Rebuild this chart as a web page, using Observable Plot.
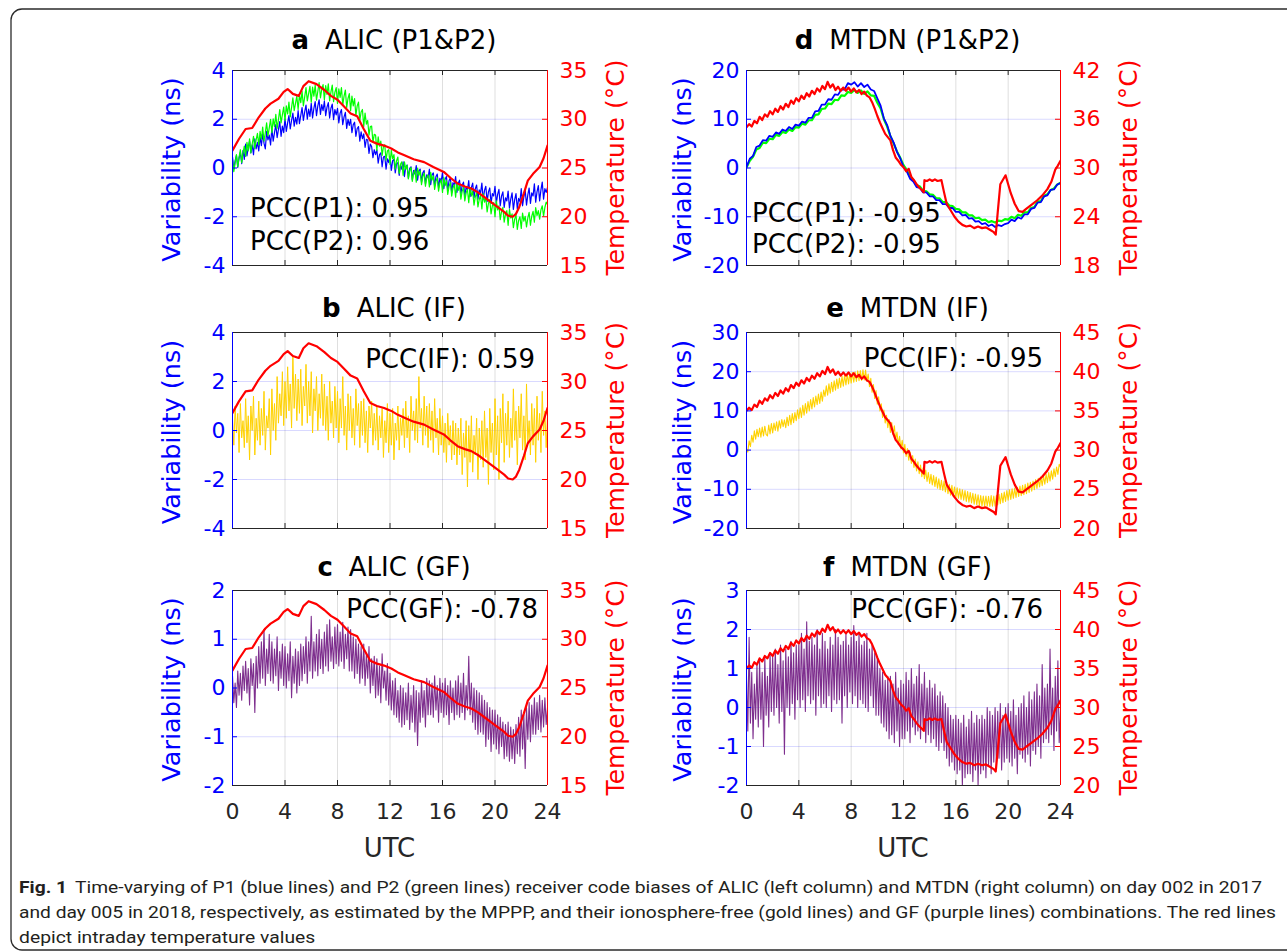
<!DOCTYPE html>
<html><head><meta charset="utf-8">
<script src="https://cdn.jsdelivr.net/npm/d3@7"></script>
<script src="https://cdn.jsdelivr.net/npm/@observablehq/plot@0.6"></script>
<style>
html,body{margin:0;padding:0;background:#fff;}
#wrap{position:relative;width:1287px;height:952px;overflow:hidden;background:#fff;}
</style></head>
<body><div id="wrap"></div>
<script>
// ---------- tick labels ----------
const xTicks = [0, 4, 8, 12, 16, 20, 24];

// ---------- ALIC (day 002, 2017) ----------
const alicP1 = [0.45,-0.05,0.30,0.52,0.02,0.40,0.65,0.18,0.72,0.35,
 0.98,0.50,0.85,1.10,0.62,0.95,0.55,1.20,0.78,1.05,
 0.70,1.28,0.92,1.40,1.02,0.78,1.50,1.15,1.35,0.95,
 1.62,1.10,1.45,1.78,1.25,1.58,1.90,1.30,1.72,1.45,
 2.02,1.50,1.85,2.15,1.60,1.95,2.25,1.72,2.08,1.80,
 2.35,1.82,2.15,2.48,1.95,2.30,2.58,2.00,2.42,2.12,
 2.65,2.05,2.45,2.72,2.15,2.55,2.80,2.20,2.60,2.35,
 2.75,2.15,2.50,2.68,2.05,2.45,2.62,1.98,2.40,2.18,
 2.45,1.85,2.25,2.40,1.78,2.10,2.28,1.62,2.00,1.75,
 2.00,1.45,1.78,1.88,1.30,1.62,1.70,1.10,1.48,1.20,
 1.40,0.85,1.18,1.15,0.60,0.98,0.88,0.42,0.75,0.55,
 0.75,0.20,0.55,0.62,0.05,0.45,0.48,-0.05,0.38,0.22,
 0.48,-0.10,0.30,0.35,-0.20,0.18,0.22,-0.30,0.12,-0.05,
 0.25,-0.35,0.05,0.12,-0.42,-0.02,0.05,-0.48,-0.10,-0.25,
 0.10,-0.50,-0.12,-0.05,-0.58,-0.20,-0.10,-0.65,-0.28,-0.40,
 -0.05,-0.68,-0.28,-0.20,-0.75,-0.35,-0.25,-0.82,-0.42,-0.55,
 -0.18,-0.85,-0.45,-0.35,-0.92,-0.52,-0.40,-1.00,-0.60,-0.72,
 -0.35,-1.00,-0.62,-0.50,-1.08,-0.70,-0.58,-1.15,-0.78,-0.90,
 -0.52,-1.18,-0.80,-0.62,-1.22,-0.85,-0.70,-1.28,-0.90,-1.02,
 -0.62,-1.30,-0.92,-0.75,-1.38,-0.98,-0.82,-1.45,-1.05,-1.15,
 -0.75,-1.45,-1.08,-0.88,-1.55,-1.15,-0.98,-1.62,-1.22,-1.35,
 -0.95,-1.65,-1.28,-1.02,-1.70,-1.30,-1.05,-1.68,-1.25,-1.38,
 -0.85,-1.55,-1.18,-0.90,-1.52,-1.10,-0.82,-1.45,-1.02,-1.15,
 -0.65,-1.40,-0.98,-0.72,-1.35,-0.90,-0.58,-1.28,-0.85,-1.00,
 -0.80];
const alicP2 = [0.35,-0.15,0.20,0.55,0.05,0.45,0.75,0.22,0.62,0.90,
 0.48,1.05,0.70,1.20,0.62,0.98,1.30,0.80,1.15,1.42,
 0.95,1.50,1.18,1.68,1.10,1.45,1.85,1.32,1.65,2.00,
 1.45,2.02,1.70,2.20,1.62,1.98,2.40,1.85,2.18,2.50,
 1.95,2.55,2.22,2.70,2.10,2.48,2.88,2.35,2.65,2.95,
 2.40,3.00,2.68,3.15,2.55,2.92,3.30,2.75,3.05,3.35,
 2.70,3.32,2.95,3.40,2.78,3.15,3.50,2.88,3.22,3.42,
 2.80,3.38,3.02,3.45,2.75,3.12,3.40,2.72,3.10,3.30,
 2.65,3.25,2.90,3.30,2.58,2.95,3.20,2.48,2.85,3.05,
 2.35,2.95,2.55,2.85,2.15,2.55,2.70,1.95,2.30,2.40,
 1.70,2.25,1.80,1.95,1.35,1.70,1.72,1.05,1.38,1.35,
 0.72,1.28,0.90,1.10,0.52,0.88,0.95,0.32,0.70,0.75,
 0.15,0.72,0.38,0.55,-0.05,0.30,0.45,-0.22,0.15,0.25,
 -0.30,0.25,-0.05,0.12,-0.45,-0.10,0.02,-0.55,-0.20,-0.08,
 -0.58,0.00,-0.30,-0.12,-0.68,-0.35,-0.20,-0.75,-0.40,-0.28,
 -0.78,-0.18,-0.50,-0.32,-0.88,-0.55,-0.40,-0.95,-0.62,-0.48,
 -1.00,-0.38,-0.72,-0.52,-1.08,-0.75,-0.60,-1.15,-0.82,-0.68,
 -1.20,-0.58,-0.92,-0.72,-1.28,-0.95,-0.80,-1.35,-1.02,-0.88,
 -1.42,-0.80,-1.15,-0.95,-1.52,-1.18,-1.02,-1.60,-1.28,-1.12,
 -1.68,-1.05,-1.40,-1.22,-1.80,-1.45,-1.30,-1.88,-1.55,-1.42,
 -2.00,-1.35,-1.72,-1.55,-2.12,-1.78,-1.62,-2.22,-1.88,-1.75,
 -2.35,-1.70,-2.05,-1.88,-2.45,-2.10,-1.92,-2.52,-2.15,-2.00,
 -2.48,-1.85,-2.18,-1.98,-2.42,-2.05,-1.82,-2.35,-1.98,-1.78,
 -2.22,-1.62,-1.95,-1.75,-2.10,-1.72,-1.55,-1.98,-1.62,-1.40,
 -1.50];
const alicIF = [0.5,-0.6,1.0,-0.1,0.7,-0.9,1.1,-0.3,0.4,-0.7,
 1.3,-0.5,0.6,-1.2,1.0,0.0,1.4,-1.0,0.5,-0.4,
 1.2,-0.6,0.9,-0.2,1.6,-0.8,0.6,0.1,1.3,-1.0,
 1.7,0.0,1.1,-0.4,2.2,0.3,1.5,0.6,2.4,0.2,
 2.0,0.5,2.6,0.8,1.9,0.1,3.0,0.9,2.3,0.4,
 2.1,0.7,2.5,0.2,1.8,1.0,2.7,0.3,2.0,0.6,
 2.4,-0.1,1.7,0.8,2.2,0.0,1.5,0.5,2.3,0.2,
 1.9,0.0,1.4,-0.4,2.0,0.3,1.2,-0.3,1.8,0.1,
 1.6,-0.5,1.3,0.1,2.2,-0.2,1.0,-0.8,1.5,0.0,
 1.4,-0.3,0.9,-0.6,1.7,0.2,1.1,-0.7,1.2,-0.2,
 1.3,-0.5,0.8,-0.9,1.0,0.1,1.2,-0.6,0.7,-0.4,
 1.0,-0.8,0.6,-0.3,0.9,-1.1,0.4,-0.5,1.1,-0.9,
 0.7,-0.6,0.9,-1.2,0.3,-0.4,1.0,-0.8,0.5,-0.2,
 0.9,-0.7,1.2,-0.3,0.6,-0.9,1.4,0.0,0.8,-0.4,
 1.3,-0.5,2.2,0.1,0.9,-0.6,1.4,-0.2,1.0,-0.7,
 1.1,-0.4,0.8,-0.9,1.3,-0.3,0.5,-1.0,0.9,-0.6,
 0.6,-0.9,0.3,-1.3,0.7,-0.6,0.2,-1.2,0.4,-1.0,
 0.3,-1.4,0.1,-1.0,0.5,-1.8,-0.1,-1.1,0.4,-2.3,
 0.2,-1.3,0.6,-1.7,-0.2,-1.0,0.5,-2.0,0.1,-1.2,
 0.4,-1.5,0.8,-1.1,0.1,-2.2,0.9,-0.9,0.3,-1.6,
 1.3,-1.0,0.6,-2.0,0.9,-0.5,1.5,-1.3,0.7,-0.6,
 1.2,-1.1,0.5,-0.7,1.7,-0.4,0.8,-1.4,1.0,-0.3,
 1.5,-0.8,0.6,-1.2,1.9,-0.5,0.4,-1.0,1.1,-0.6,
 0.9,-1.3,1.4,-0.4,0.7,-0.9,1.6,-0.2,0.8,-0.7,
 0.6];
const alicGF = [0.25,-0.30,0.10,-0.40,0.35,-0.15,0.30,-0.25,0.45,-0.05,
 0.55,-0.10,0.40,-0.35,0.60,0.05,0.50,-0.50,0.65,0.00,
 0.85,0.10,0.95,0.20,1.20,0.05,0.80,0.30,1.10,0.15,
 0.95,0.10,0.80,0.25,1.05,-0.05,0.75,0.20,0.90,0.05,
 0.85,0.00,0.70,0.15,0.95,-0.20,0.65,0.10,0.80,-0.10,
 0.75,0.05,0.90,0.15,0.85,0.30,1.05,0.10,0.95,0.35,
 1.47,0.20,0.95,0.35,1.10,0.25,1.20,0.40,1.00,0.30,
 1.15,0.45,1.30,0.35,1.40,0.55,1.05,0.40,1.25,0.50,
 1.30,0.45,1.15,0.55,1.35,0.40,1.10,0.60,1.25,0.35,
 1.20,0.35,1.05,0.20,1.00,0.30,0.90,0.10,0.85,0.20,
 0.90,0.05,0.70,0.20,0.85,-0.10,0.60,0.05,0.65,-0.20,
 0.60,-0.15,0.45,-0.30,0.70,0.00,0.35,-0.25,0.50,-0.35,
 0.30,-0.45,0.15,-0.55,0.20,-0.60,-0.05,-0.70,0.05,-0.80,
 0.00,-0.75,-0.10,-0.65,0.10,-0.85,-0.15,-0.70,0.05,-0.90,
 -0.05,-1.18,-0.10,-0.70,0.15,-0.60,-0.05,-0.80,0.20,-0.55,
 0.15,-0.55,0.10,-0.60,0.25,-0.45,0.05,-0.70,0.20,-0.50,
 0.10,-0.60,0.20,-0.55,0.05,-0.75,0.15,-0.50,0.00,-0.65,
 0.15,-0.55,0.25,-0.60,0.10,-0.50,0.30,-0.65,0.05,-0.45,
 0.65,-0.55,0.10,-0.70,0.00,-0.85,-0.05,-0.95,-0.10,-0.90,
 -0.15,-0.95,-0.25,-1.20,-0.30,-1.05,-0.40,-1.30,-0.45,-1.15,
 -0.45,-1.25,-0.55,-1.35,-0.60,-1.20,-0.70,-1.45,-0.75,-1.40,
 -0.70,-1.50,-0.80,-1.45,-0.85,-1.55,-0.75,-1.35,-0.60,-1.40,
 -0.45,-1.25,-0.55,-1.65,-0.40,-1.05,-0.30,-1.10,-0.35,-0.95,
 -0.20,-0.95,-0.30,-0.85,-0.15,-0.90,-0.25,-0.80,-0.20,-0.75,
 -0.40];
// [UTC hour, temperature °C]
const alicTemp = [[0,26.8],[0.5,28.0],[1.0,29.0],[1.5,29.1],[2.0,30.2],[2.5,31.1],[2.9,31.6],[3.5,32.1],[3.9,32.8],[4.2,33.1],[4.6,32.6],[5.05,32.4],[5.4,33.4],[5.8,33.9],[6.4,33.6],[7.0,33.0],[7.5,32.4],[8.0,32.0],[8.5,31.3],[9.0,30.6],[9.5,30.3],[10.0,29.0],[10.5,27.8],[11.0,27.5],[11.55,27.3],[12.1,27.0],[12.6,26.6],[13.1,26.3],[13.8,25.9],[14.6,25.6],[15.3,25.1],[16.1,24.6],[16.6,24.0],[17.15,23.4],[17.7,23.1],[18.2,22.9],[18.7,22.5],[19.2,22.0],[20.0,21.2],[20.7,20.5],[21.0,20.1],[21.35,20.0],[21.6,20.3],[21.85,21.0],[22.2,22.4],[22.5,23.7],[22.9,24.4],[23.4,25.1],[23.7,26.0],[24.0,27.3]];

// ---------- MTDN (day 005, 2018) ----------
const mtdnP1 = [0.2,1.9,2.5,4.3,4.6,5.7,5.6,6.6,
 6.4,7.3,7.0,7.9,7.6,8.4,8.0,8.9,
 8.7,9.5,9.3,10.3,10.3,11.6,11.7,13.0,
 13.0,14.1,14.0,15.1,15.0,16.1,16.1,17.4,
 17.1,17.6,16.7,17.4,16.6,17.1,16.1,15.8,
 14.3,12.8,10.2,8.8,6.6,5.2,3.3,2.0,
 0.2,-0.7,-2.2,-2.8,-3.9,-4.1,-5.0,-5.0,
 -5.8,-5.8,-6.6,-6.6,-7.4,-7.4,-8.2,-8.2,
 -9.0,-9.0,-9.7,-9.6,-10.4,-10.3,-11.0,-10.9,
 -11.5,-11.3,-11.9,-11.6,-12.1,-11.7,-11.9,-11.5,
 -11.3,-10.6,-10.9,-10.1,-10.4,-9.5,-9.5,-8.4,
 -8.2,-7.1,-7.0,-5.8,-5.6,-4.5,-4.4,-3.4,
 -3.1];
const mtdnP2 = [0.1,1.5,2.3,3.8,4.1,5.2,5.1,6.0,
 5.9,6.8,6.6,7.4,7.2,7.9,7.6,8.4,
 8.3,9.1,8.9,9.8,9.8,10.9,11.0,12.1,
 12.2,13.2,13.1,14.0,13.9,14.9,14.8,15.6,
 15.4,16.0,15.4,15.9,15.2,15.7,14.9,14.8,
 13.4,12.2,10.0,8.5,6.5,5.0,3.4,2.1,
 0.6,-0.4,-1.8,-2.5,-3.5,-3.8,-4.7,-4.8,
 -5.4,-5.5,-6.2,-6.2,-7.0,-7.0,-7.7,-7.8,
 -8.4,-8.5,-9.1,-9.1,-9.7,-9.7,-10.3,-10.2,
 -10.7,-10.6,-11.1,-10.9,-11.2,-10.8,-10.9,-10.5,
 -10.6,-10.0,-10.3,-9.6,-9.8,-9.1,-9.1,-8.2,
 -8.0,-6.9,-6.8,-5.7,-5.4,-4.5,-4.2,-3.4,
 -3.0];
const mtdnIF = [0.3,-0.5,2.4,0.9,3.8,2.0,4.9,2.8,5.3,3.4,
 5.6,3.3,5.9,3.6,6.1,4.0,3.6,6.4,4.1,6.8,
 4.4,6.9,5.0,7.2,4.8,7.5,5.6,7.8,6.0,7.7,
 5.7,8.4,6.2,8.9,6.5,9.3,7.0,9.6,7.5,10.3,
 8.0,10.8,8.3,11.4,8.9,11.9,9.4,12.4,10.0,12.9,
 10.5,13.4,11.0,13.8,11.6,14.3,11.9,14.8,12.5,15.3,
 13.7,16.4,14.0,16.9,14.5,17.3,14.9,17.7,15.3,18.1,
 15.7,18.4,16.0,18.8,16.3,19.2,16.6,19.4,16.9,19.6,
 17.1,19.8,17.3,20.0,17.5,20.2,17.7,20.3,17.8,20.5,
 17.9,20.4,17.6,19.4,16.2,18.3,14.8,16.7,13.2,15.2,
 11.7,13.6,10.0,11.8,8.3,10.2,6.9,8.9,5.7,7.8,
 4.5,7.0,3.9,6.2,2.6,4.6,1.4,3.5,0.3,2.5,
 -0.7,1.5,-1.6,0.4,-2.6,-0.5,-3.4,-1.4,-4.4,-2.3,
 -5.3,-3.0,-6.0,-3.8,-6.8,-4.5,-7.3,-5.1,-8.0,-5.7,
 -8.5,-6.2,-8.9,-6.5,-9.3,-6.9,-9.7,-7.3,-10.1,-7.7,
 -10.3,-7.9,-10.7,-8.3,-11.1,-8.7,-11.5,-9.0,-11.8,-9.4,
 -12.1,-9.6,-12.3,-9.9,-12.6,-10.1,-12.8,-10.3,-13.1,-10.6,
 -13.3,-10.8,-13.5,-11.0,-13.8,-11.2,-14.0,-11.4,-14.2,-11.6,
 -14.3,-11.7,-14.4,-11.7,-14.3,-11.8,-14.4,-11.6,-14.3,-11.7,
 -14.3,-11.6,-14.0,-11.3,-13.7,-11.0,-13.4,-10.7,-13.1,-10.3,
 -12.8,-10.1,-12.6,-9.9,-12.3,-9.7,-12.1,-9.5,-11.8,-9.2,
 -11.6,-9.0,-11.4,-8.7,-11.1,-8.4,-10.8,-8.2,-10.5,-7.9,
 -10.1,-7.5,-9.8,-7.2,-9.4,-6.8,-9.1,-6.5,-8.7,-6.1,
 -8.3,-5.7,-7.9,-5.3,-7.4,-4.8,-6.8,-4.3,-6.2,-3.6,
 -4.4];
const mtdnGF = [0.8,-0.6,1.8,-0.4,0.9,-0.8,0.6,-0.3,1.1,-0.5,
 1.2,-0.3,0.9,-1.0,1.3,-0.2,0.8,-0.5,1.4,-0.1,
 1.3,-0.2,1.5,0.0,1.1,-0.4,1.6,-0.1,1.2,-1.2,
 1.5,0.0,1.3,-0.2,1.7,0.1,1.4,-0.3,1.6,0.2,
 1.6,0.0,1.9,0.2,1.5,-0.1,2.2,0.3,1.7,0.1,
 1.8,0.2,1.6,-0.2,2.0,0.3,1.5,0.0,1.9,0.1,
 1.7,0.0,1.5,0.3,1.8,-0.1,1.6,0.2,2.0,0.1,
 1.8,0.2,1.6,-0.4,1.7,0.3,1.9,0.0,1.6,0.4,
 1.8,0.1,2.1,0.3,1.7,0.0,1.9,0.2,1.6,0.1,
 1.7,0.0,1.9,-0.1,1.5,0.3,1.6,0.0,1.4,-0.2,
 1.3,-0.2,1.0,-0.4,0.9,-0.5,0.7,-0.6,0.8,-0.8,
 0.8,-0.7,0.6,-0.9,0.9,-0.6,0.5,-1.0,0.7,-0.8,
 0.6,-0.8,0.9,-0.6,0.7,-0.9,1.0,-0.5,0.6,-0.7,
 0.8,-0.6,1.1,-0.8,0.6,-0.5,0.9,-0.9,0.5,-0.7,
 0.7,-0.9,0.5,-0.8,0.6,-1.0,0.3,-1.1,0.4,-0.9,
 0.3,-1.1,0.1,-1.3,0.0,-1.5,-0.2,-1.4,-0.3,-1.6,
 -0.2,-1.7,-0.3,-1.6,-0.4,-2.0,-0.2,-1.8,-0.5,-1.7,
 -0.3,-1.7,-0.1,-1.9,-0.4,-1.6,-0.2,-2.0,-0.3,-1.7,
 -0.2,-1.6,-0.3,-1.8,0.0,-1.5,-0.1,-1.7,-0.2,-1.4,
 0.0,-1.5,-0.1,-1.3,0.1,-1.6,-0.2,-1.4,0.0,-1.3,
 0.1,-1.4,-0.1,-1.5,0.2,-1.3,-0.2,-1.7,0.0,-1.2,
 0.1,-1.3,0.3,-1.4,0.0,-1.2,0.4,-1.5,0.2,-1.1,
 0.4,-1.2,0.6,-1.0,0.3,-1.3,1.1,-0.9,0.5,-0.8,
 0.6,-0.9,1.5,-0.7,0.5,-1.1,0.8,-0.6,1.2,-0.9,
 -0.1];
const mtdnTemp = [[0,35.0],[0.2,35.4],[0.4,35.1],[0.6,35.8],[0.8,35.5],[1.0,36.3],[1.2,35.9],[1.4,36.6],[1.6,36.3],[1.8,37.0],[2.0,36.6],[2.2,37.3],[2.4,36.9],[2.6,37.6],[2.8,37.2],[3.0,37.9],[3.2,37.5],[3.4,38.3],[3.6,37.9],[3.8,38.6],[4.0,38.2],[4.2,38.9],[4.4,38.5],[4.6,39.2],[4.8,38.8],[5.0,39.5],[5.2,39.1],[5.4,39.8],[5.6,39.4],[5.8,40.1],[6.0,39.7],[6.2,40.6],[6.4,39.9],[6.6,40.3],[6.8,39.6],[7.0,40.0],[7.2,39.5],[7.4,39.9],[7.6,39.5],[7.8,39.9],[8.0,39.4],[8.2,39.8],[8.4,39.3],[8.6,39.6],[8.8,39.1],[9.0,39.4],[9.2,38.9],[9.4,38.7],[9.6,38.1],[9.8,37.3],[10.0,36.4],[10.2,35.6],[10.4,34.9],[10.6,34.2],[10.8,33.8],[11.0,33.4],[11.2,32.2],[11.4,31.3],[11.6,30.9],[11.8,30.4],[12.0,30.1],[12.2,29.6],[12.4,29.9],[12.6,28.9],[12.8,28.5],[13.0,28.0],[13.2,27.6],[13.4,27.3],[13.55,27.0],[13.6,28.5],[13.8,28.4],[14.0,28.6],[14.2,28.4],[14.4,28.6],[14.6,28.4],[14.9,28.5],[15.1,27.0],[15.3,25.6],[15.6,24.8],[15.9,24.0],[16.2,23.4],[16.5,23.0],[16.8,22.8],[17.1,22.9],[17.4,22.6],[17.7,22.8],[18.0,22.6],[18.3,22.7],[18.6,22.4],[18.9,22.1],[19.05,21.8],[19.2,24.5],[19.4,28.0],[19.8,29.1],[20.0,28.0],[20.2,26.9],[20.5,25.6],[20.8,24.7],[21.1,24.6],[21.4,25.0],[21.8,25.5],[22.2,26.0],[22.6,26.6],[23.0,27.4],[23.3,28.3],[23.6,29.8],[23.8,30.3],[24.0,30.9]];

// ---------- panel definitions ----------
const BLUE = "#0000ff", RED = "#ff0000", GREEN = "#00ff00", GOLD = "#ffd200", PURPLE = "#7e2f8e", DARK = "#262626";
const panels = [
  {tag:"a", name:"ALIC (P1&P2)", col:0, row:0, yDom:[-4,4], yTicks:[-4,-2,0,2,4], tDom:[15,35], tTicks:[15,20,25,30,35],
   series:[{v:alicP1,c:BLUE,w:1.2},{v:alicP2,c:GREEN,w:1.2}], temp:alicTemp,
   pcc:[{t:"PCC(P1): 0.95",x:18,y:147,a:"start"},{t:"PCC(P2): 0.96",x:18,y:180,a:"start"}]},
  {tag:"b", name:"ALIC (IF)", col:0, row:1, yDom:[-4,4], yTicks:[-4,-2,0,2,4], tDom:[15,35], tTicks:[15,20,25,30,35],
   series:[{v:alicIF,c:GOLD,w:1}], temp:alicTemp, pcc:[{t:"PCC(IF): 0.59",x:-12,y:36,a:"end"}]},
  {tag:"c", name:"ALIC (GF)", col:0, row:2, yDom:[-2,2], yTicks:[-2,-1,0,1,2], tDom:[15,35], tTicks:[15,20,25,30,35],
   series:[{v:alicGF,c:PURPLE,w:1.1}], temp:alicTemp, pcc:[{t:"PCC(GF): -0.78",x:-9,y:28,a:"end"}]},
  {tag:"d", name:"MTDN (P1&P2)", col:1, row:0, yDom:[-20,20], yTicks:[-20,-10,0,10,20], tDom:[18,42], tTicks:[18,24,30,36,42],
   series:[{v:mtdnP2,c:GREEN,w:2.2},{v:mtdnP1,c:BLUE,w:1.8}], temp:mtdnTemp,
   pcc:[{t:"PCC(P1): -0.95",x:6,y:152,a:"start"},{t:"PCC(P2): -0.95",x:6,y:183,a:"start"}]},
  {tag:"e", name:"MTDN (IF)", col:1, row:1, yDom:[-20,30], yTicks:[-20,-10,0,10,20,30], tDom:[20,45], tTicks:[20,25,30,35,40,45],
   series:[{v:mtdnIF,c:GOLD,w:1.1}], temp:mtdnTemp, pcc:[{t:"PCC(IF): -0.95",x:-17,y:35,a:"end"}]},
  {tag:"f", name:"MTDN (GF)", col:1, row:2, yDom:[-2,3], yTicks:[-2,-1,0,1,2,3], tDom:[20,45], tTicks:[20,25,30,35,40,45],
   series:[{v:mtdnGF,c:PURPLE,w:1.1}], temp:mtdnTemp, pcc:[{t:"PCC(GF): -0.76",x:-17,y:28,a:"end"}]}
];
const COLS = [{left:232, w:315, ylab:-61}, {left:746, w:314, ylab:-64}];
const ROWS = [{top:70, h:195, title:21}, {top:332, h:196, title:15.5}, {top:590, h:195, title:14}];
const FONT = "DejaVu Sans, Verdana, sans-serif";

const wrap = document.getElementById("wrap");

// ---------- border + caption ----------
const bg = d3.select(wrap).append("svg").attr("width",1287).attr("height",952)
  .style("position","absolute").style("left","0px").style("top","0px");
bg.append("rect").attr("x",11).attr("y",9).attr("width",1320).attr("height",941).attr("rx",11)
  .attr("fill","none").attr("stroke","#2b2b2b").attr("stroke-width",1.3);
const capFont = "Roboto, 'Open Sans', sans-serif";
const capX = 19, capBase = [893, 918, 943], capRight = [1262, 1276];
const l1 = bg.append("text").attr("x",capX).attr("y",capBase[0]).attr("font-family",capFont).attr("font-size",17).attr("fill","#231f20");
l1.append("tspan").attr("font-weight","bold").text("Fig. 1");
l1.append("tspan").attr("dx",7).text("Time-varying of P1 (blue lines) and P2 (green lines) receiver code biases of ALIC (left column) and MTDN (right column) on day 002 in 2017");
const l2 = bg.append("text").attr("x",capX).attr("y",capBase[1]).attr("font-family",capFont).attr("font-size",17).attr("fill","#231f20")
  .text("and day 005 in 2018, respectively, as estimated by the MPPP, and their ionosphere-free (gold lines) and GF (purple lines) combinations. The red lines");
const l3 = bg.append("text").attr("x",capX).attr("y",capBase[2]).attr("font-family",capFont).attr("font-size",17).attr("fill","#231f20")
  .text("depict intraday temperature values");
const n1 = l1.node().getComputedTextLength(), n2 = l2.node().getComputedTextLength(), n3 = l3.node().getComputedTextLength();
const r1 = (capRight[0]-capX)/n1, r2 = (capRight[1]-capX)/n2;
l1.attr("textLength", capRight[0]-capX).attr("lengthAdjust","spacingAndGlyphs");
l2.attr("textLength", capRight[1]-capX).attr("lengthAdjust","spacingAndGlyphs");
l3.attr("textLength", n3*(r1+r2)/2).attr("lengthAdjust","spacingAndGlyphs");

// ---------- panels ----------
for (const p of panels) {
  const col = COLS[p.col], row = ROWS[p.row];
  const mL = 80, mR = 100, mT = 50, mB = p.row === 2 ? 80 : 12;
  const W = mL + col.w + mR, H = mT + row.h + mB;
  const [y0, y1] = p.yDom, [T0, T1] = p.tDom;
  const toL = T => y0 + (T - T0) * (y1 - y0) / (T1 - T0);
  const fromL = v => T0 + (v - y0) * (T1 - T0) / (y1 - y0);
  const marks = [
    Plot.gridX({ticks: xTicks, stroke: DARK, strokeOpacity: 0.15}),
    Plot.gridY({ticks: p.yTicks, stroke: BLUE, strokeOpacity: 0.15}),
    ...p.series.map(s => Plot.line(s.v.map((v, i) => ({t: 24 * i / (s.v.length - 1), v})),
        {x: "t", y: "v", stroke: s.c, strokeWidth: s.w, clip: true})),
    Plot.line(p.temp, {x: d => d[0], y: d => toL(d[1]), stroke: RED, strokeWidth: 2.2, clip: true}),
    // inward ticks
    Plot.tickY(p.yTicks, {y: d => d, stroke: BLUE, insetRight: col.w - 5}),
    Plot.tickY(p.tTicks.map(toL), {y: d => d, stroke: RED, insetLeft: col.w - 5}),
    Plot.tickX(xTicks, {x: d => d, stroke: DARK, insetBottom: row.h - 5}),
    Plot.tickX(xTicks, {x: d => d, stroke: DARK, insetTop: row.h - 5}),
    // box
    Plot.ruleY([y1], {stroke: DARK}),
    Plot.ruleY([y0], {stroke: DARK}),
    Plot.ruleX([0], {stroke: BLUE}),
    Plot.ruleX([24], {stroke: RED}),
    // axes
    Plot.axisY({ticks: p.yTicks, tickSize: 0, tickPadding: 7, fontSize: 22, color: BLUE, label: null, tickFormat: d => String(d)}),
    Plot.axisY({anchor: "right", ticks: p.tTicks.map(toL), tickSize: 0, tickPadding: 12, fontSize: 22, color: RED, label: null,
      tickFormat: v => String(Math.round(fromL(v)))})
  ];
  if (p.row === 2) marks.push(Plot.axisX({ticks: xTicks, tickSize: 0, tickPadding: 18, fontSize: 22, color: DARK, label: null, tickFormat: d => String(d)}));
  const el = Plot.plot({
    width: W, height: H, marginLeft: mL, marginRight: mR, marginTop: mT, marginBottom: mB,
    x: {domain: [0, 24], axis: p.row === 2 ? undefined : null},
    y: {domain: p.yDom},
    style: {fontFamily: FONT, background: "transparent", overflow: "visible"},
    marks
  });
  el.style.position = "absolute";
  el.style.left = (col.left - mL) + "px";
  el.style.top = (row.top - mT) + "px";
  wrap.appendChild(el);
  const svg = d3.select(el);
  const cx = mL + col.w / 2, cy = mT + row.h / 2;
  // title
  const tt = svg.append("text").attr("x", cx + 4.5).attr("y", mT - row.title).attr("text-anchor", "middle")
    .attr("font-family", FONT).attr("font-size", 26).attr("fill", "#000");
  tt.append("tspan").attr("font-weight", "bold").text(p.tag);
  tt.append("tspan").attr("dx", 16).text(p.name);
  // y labels
  svg.append("text").attr("transform", `translate(${mL + col.ylab},${cy + 2}) rotate(-90)`).attr("dy", "0.35em")
    .attr("text-anchor", "middle").attr("font-family", FONT).attr("font-size", 25.5).attr("fill", BLUE).text("Variability (ns)");
  svg.append("text").attr("transform", `translate(${mL + col.w + 68},${cy}) rotate(-90)`).attr("dy", "0.35em")
    .attr("text-anchor", "middle").attr("font-family", FONT).attr("font-size", 25).attr("fill", RED).text("Temperature (°C)");
  // PCC annotations
  for (const q of p.pcc) {
    svg.append("text").attr("x", q.a === "start" ? mL + q.x : mL + col.w + q.x).attr("y", mT + q.y)
      .attr("text-anchor", q.a).attr("font-family", FONT).attr("font-size", 26).attr("fill", "#000").text(q.t);
  }
  if (p.row === 2) {
    svg.append("text").attr("x", cx).attr("y", mT + row.h + 72).attr("text-anchor", "middle")
      .attr("font-family", FONT).attr("font-size", 26).attr("fill", DARK).text("UTC");
  }
}
</script>
</body></html>
